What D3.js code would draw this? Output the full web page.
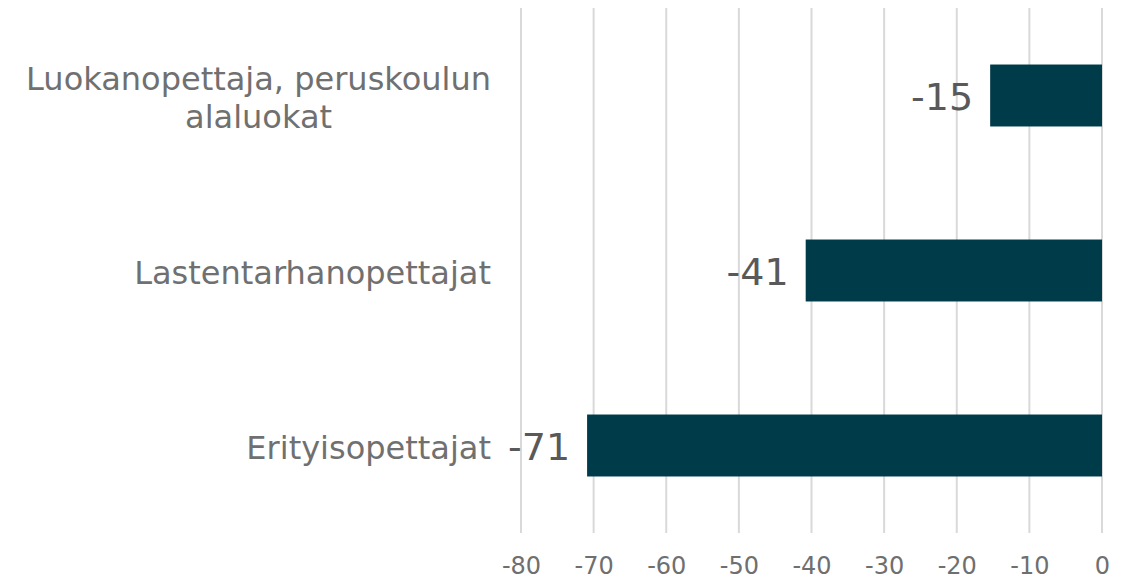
<!DOCTYPE html>
<html>
<head>
<meta charset="utf-8">
<script src="https://cdn.jsdelivr.net/npm/d3@7"></script>
<style>
  body { margin: 0; background: #fff; }
  svg { font-family: "DejaVu Sans", Verdana, sans-serif; }
</style>
</head>
<body>
<svg width="1130" height="576"></svg>
<script>
// Kategoriat ja arvot
const categories = ["Luokanopettaja, peruskoulun|alaluokat", "Lastentarhanopettajat", "Erityisopettajat"];
const values = [-15.4, -40.8, -70.9];
const ticks = [-80, -70, -60, -50, -40, -30, -20, -10, 0];

const svg = d3.select("svg");
const area = { left: 521, right: 1102, top: 8, bottom: 533 };

const scX = d3.scaleLinear().domain([-80, 0]).range([area.left, area.right]);
const scY = d3.scaleBand().domain(categories).range([area.top, area.bottom]).paddingInner(0.646).paddingOuter(0.323);

// pystysuorat apuviivat
svg.append("g")
   .selectAll("line")
   .data(ticks)
   .enter()
   .append("line")
   .attr("x1", d => scX(d))
   .attr("x2", d => scX(d))
   .attr("y1", area.top)
   .attr("y2", area.bottom)
   .attr("stroke", "#d9d9d9")
   .attr("stroke-width", 2);

// x-akseli
const axisX = d3.axisBottom(scX).tickValues(ticks).tickSize(0).tickPadding(0);
const gX = svg.append("g")
   .attr("transform", `translate(0, ${area.bottom + 41})`)
   .call(axisX);
gX.select(".domain").remove();
gX.selectAll("text")
   .attr("dy", 0)
   .style("font-size", "24px")
   .style("font-family", "DejaVu Sans, Verdana, sans-serif")
   .attr("fill", "#6f6f6f")
   .text(d => String(d));

// palkit
svg.selectAll(".bar")
   .data(categories)
   .enter()
   .append("rect")
   .attr("x", (d, i) => scX(values[i]))
   .attr("y", d => scY(d))
   .attr("width", (d, i) => scX(0) - scX(values[i]))
   .attr("height", scY.bandwidth())
   .attr("fill", "#003b4a");

// arvotekstit
svg.selectAll(".val")
   .data(categories)
   .enter()
   .append("text")
   .attr("x", (d, i) => scX(values[i]) - 17)
   .attr("y", d => scY(d) + scY.bandwidth() / 2)
   .attr("dy", "0.38em")
   .attr("text-anchor", "end")
   .style("font-size", "38px")
   .attr("fill", "#595959")
   .text((d, i) => Math.round(values[i]));

// kategoriatekstit
const labelRight = 491;
categories.forEach(c => {
    const lines = c.split("|");
    const cy = scY(c) + scY.bandwidth() / 2;
    const lh = 37.5;
    const t = svg.append("text")
        .style("font-size", "32px")
        .attr("fill", "#707070")
        .attr("text-anchor", "middle");
    lines.forEach((l, i) => {
        t.append("tspan")
         .attr("y", cy + (i - (lines.length - 1) / 2) * lh)
         .attr("dy", "0.42em")
         .text(l);
    });
    let w = 0;
    t.selectAll("tspan").each(function() { w = Math.max(w, this.getComputedTextLength()); });
    t.selectAll("tspan").attr("x", labelRight - w / 2);
});
</script>
</body>
</html>
